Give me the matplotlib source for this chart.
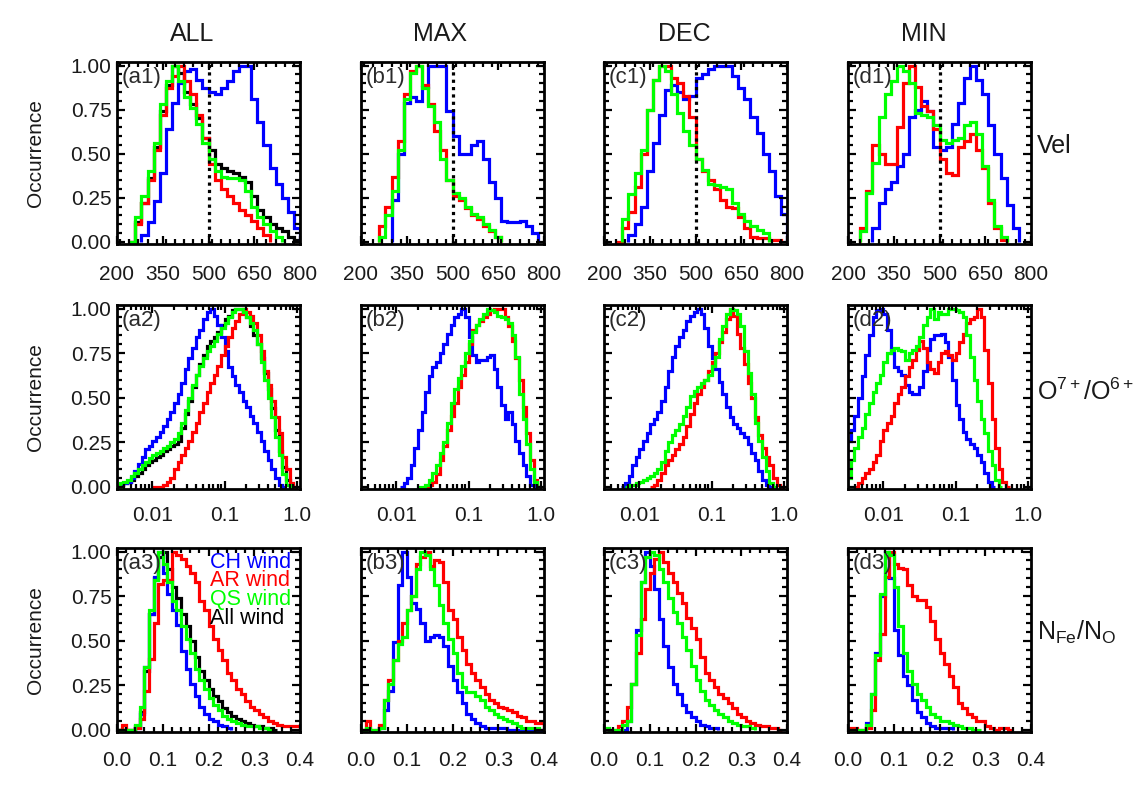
import numpy as np
import matplotlib
matplotlib.use("Agg")
import matplotlib.pyplot as plt
from matplotlib.ticker import MultipleLocator, FixedLocator, FixedFormatter, LogLocator, NullFormatter

N = np.nan

# ---------------- data ----------------
columns = ["ALL", "MAX", "DEC", "MIN"]
row_names = ["Vel", "O$^{7+}$/O$^{6+}$", "N$_{\\mathrm{Fe}}$/N$_{\\mathrm{O}}$"]
legend_labels = ["CH wind", "AR wind", "QS wind", "All wind"]

vel_edges = np.arange(200, 801, 20)            # km/s, 30 bins
ox_log_edges = np.linspace(-2.5, 0.0, 51)      # log10(O7+/O6+), 50 bins
feo_edges = np.linspace(0.0, 0.4, 41)          # Fe/O, 40 bins

vel_ticks = [200, 350, 500, 650, 800]
ox_ticks = [0.01, 0.1, 1.0]
ox_tick_labels = ["0.01", "0.1", "1.0"]
feo_ticks = [0.0, 0.1, 0.2, 0.3, 0.4]
y_ticks = [0.0, 0.25, 0.5, 0.75, 1.0]

# Velocity
a1_ch = [N,N,N,N,0.04,0.11,0.23,0.39,0.64,0.79,0.90,0.97,0.98,0.92,0.87,0.85,0.84,0.87,0.91,0.97,1.00,1.00,0.81,0.68,0.55,0.42,0.33,0.25,0.17,0.08]
a1_ar = [N,N,0.00,0.10,0.22,0.35,0.52,0.72,0.87,0.94,1.00,0.91,0.84,0.72,0.59,0.44,0.35,0.30,0.26,0.22,0.18,0.15,0.12,0.08,0.04,N,N,N,N,N]
a1_qs = [N,N,0.00,0.14,0.26,0.40,0.56,0.78,0.91,1.00,0.91,0.82,0.76,0.67,0.56,0.47,0.40,0.37,0.36,0.36,0.35,0.29,0.20,0.14,0.10,0.06,0.03,N,N,N]
a1_all = [N,N,0.00,0.11,0.22,0.36,0.54,0.74,0.89,1.00,0.96,0.85,0.78,0.70,0.59,0.52,0.44,0.42,0.40,0.39,0.37,0.34,0.26,0.18,0.14,0.10,0.08,0.06,0.03,0.01]
b1_ch = [N,N,N,N,N,0.24,0.50,0.79,0.82,0.80,0.88,1.00,1.00,1.00,0.74,0.60,0.50,0.50,0.55,0.57,0.47,0.34,0.25,0.12,0.11,0.11,0.12,0.09,0.05,N]
b1_ar = [N,N,N,0.09,0.20,0.37,0.57,0.84,0.97,1.00,0.89,0.78,0.63,0.52,0.35,0.26,0.24,0.19,0.15,0.13,0.09,0.06,0.03,N,N,N,N,N,N,N]
b1_qs = [N,N,N,0.03,0.15,0.29,0.52,0.81,0.96,1.00,0.87,0.77,0.68,0.47,0.35,0.28,0.25,0.20,0.16,0.14,0.10,0.07,0.03,N,N,N,N,N,N,N]
c1_ch = [N,N,N,N,0.04,0.10,0.20,0.40,0.56,0.72,0.86,0.89,0.85,0.81,0.83,0.93,0.95,0.98,1.00,1.00,1.00,0.94,0.87,0.81,0.71,0.62,0.50,0.40,0.26,0.16]
c1_ar = [N,N,0.00,0.08,0.17,0.31,0.50,0.75,0.92,1.00,1.00,0.93,0.90,0.83,0.71,0.47,0.40,0.35,0.30,0.24,0.20,0.19,0.14,0.08,0.03,0.02,0.02,0.01,0.01,N]
c1_qs = [N,N,N,0.13,0.27,0.39,0.52,0.75,0.92,1.00,0.97,0.84,0.73,0.63,0.55,0.47,0.41,0.33,0.32,0.31,0.30,0.22,0.16,0.12,0.09,0.07,0.05,N,N,N]
d1_ch = [N,N,N,N,0.08,0.22,0.30,0.34,0.43,0.50,0.71,0.75,0.80,0.74,0.54,0.52,0.54,0.67,0.79,0.93,1.00,0.92,0.84,0.66,0.50,0.36,0.21,0.08,N,N]
d1_ar = [N,N,0.08,0.29,0.55,0.50,0.44,0.44,0.65,0.90,1.00,0.88,0.77,0.74,0.64,0.47,0.39,0.38,0.54,0.57,0.61,0.52,0.42,0.22,0.08,0.01,N,N,N,N]
d1_qs = [N,N,0.06,0.28,0.45,0.71,0.84,0.91,1.00,0.97,0.90,0.73,0.72,0.71,0.66,0.58,0.56,0.58,0.59,0.66,0.68,0.61,0.43,0.24,0.09,0.03,N,N,N,N]

# O7+/O6+
a2_ch = [0.00,0.01,0.02,0.03,0.05,0.09,0.13,0.17,0.21,0.23,
         0.26,0.28,0.31,0.34,0.38,0.42,0.47,0.52,0.58,0.66,
         0.72,0.78,0.84,0.88,0.94,0.98,1.00,0.96,0.91,0.84,
         0.76,0.67,0.62,0.57,0.53,0.48,0.45,0.40,0.36,0.31,
         0.26,0.20,0.15,0.10,0.05,0.01,0.00,N,N,N]
a2_ar = [N,N,N,N,N,N,N,N,N,N,
         0.00,0.00,0.00,0.01,0.03,0.05,0.10,0.14,0.18,0.22,
         0.26,0.31,0.36,0.42,0.47,0.53,0.58,0.63,0.68,0.74,
         0.79,0.84,0.89,0.93,0.97,1.00,0.98,0.96,0.92,0.85,
         0.76,0.65,0.57,0.48,0.39,0.30,0.17,0.10,0.02,0.00]
a2_qs = [0.00,0.02,0.03,0.04,0.06,0.08,0.10,0.12,0.14,0.16,
         0.18,0.19,0.20,0.22,0.23,0.25,0.27,0.30,0.36,0.43,
         0.50,0.57,0.63,0.68,0.72,0.76,0.79,0.82,0.86,0.89,
         0.92,0.95,0.98,1.00,1.00,0.98,0.95,0.92,0.88,0.80,
         0.70,0.60,0.50,0.39,0.28,0.18,0.07,0.01,0.00,N]
a2_all = [0.00,0.01,0.02,0.03,0.04,0.06,0.08,0.10,0.12,0.14,
          0.15,0.17,0.18,0.20,0.21,0.23,0.24,0.26,0.33,0.41,
          0.48,0.56,0.63,0.69,0.74,0.79,0.82,0.84,0.87,0.91,
          0.94,0.96,0.99,1.00,1.00,0.98,0.95,0.90,0.85,0.80,
          0.72,0.64,0.55,0.44,0.32,0.20,0.11,0.04,0.00,N]
b2_ch = [N,N,N,N,N,N,N,N,N,N,
         N,0.00,0.02,0.05,0.12,0.22,0.32,0.42,0.53,0.62,
         0.67,0.70,0.75,0.80,0.86,0.91,0.95,0.97,1.00,0.95,
         0.84,0.74,0.70,0.71,0.71,0.73,0.74,0.66,0.56,0.46,
         0.38,0.42,0.35,0.26,0.19,0.12,0.06,0.01,0.00,N]
b2_ar = [N,N,N,N,N,N,N,N,N,N,
         N,N,N,N,N,N,N,N,0.00,0.01,
         0.03,0.07,0.15,0.23,0.32,0.40,0.47,0.56,0.63,0.70,
         0.80,0.88,0.91,0.93,0.95,0.97,0.99,1.00,1.00,1.00,
         0.95,0.90,0.82,0.72,0.60,0.45,0.30,0.15,0.04,0.00]
b2_qs = [N,N,N,N,N,N,N,N,N,N,
         N,N,N,N,N,N,0.00,0.00,0.01,0.04,
         0.08,0.12,0.19,0.25,0.36,0.47,0.55,0.61,0.68,0.75,
         0.82,0.87,0.91,0.94,0.97,1.00,0.99,0.98,0.96,0.95,
         0.94,0.92,0.85,0.73,0.52,0.38,0.24,0.10,0.03,0.00]
c2_ch = [N,N,N,N,N,0.00,0.02,0.06,0.12,0.17,
         0.21,0.26,0.30,0.35,0.38,0.42,0.48,0.56,0.65,0.73,
         0.79,0.84,0.88,0.93,0.96,0.98,1.00,0.97,0.89,0.79,
         0.72,0.66,0.59,0.52,0.45,0.39,0.35,0.33,0.30,0.28,
         0.24,0.19,0.15,0.09,0.04,0.01,0.00,N,N,N]
c2_ar = [N,N,N,N,N,N,N,N,N,N,
         N,N,N,0.00,0.01,0.04,0.08,0.12,0.15,0.18,
         0.21,0.24,0.28,0.34,0.41,0.47,0.52,0.56,0.60,0.65,
         0.70,0.75,0.81,0.87,0.94,1.00,0.96,0.86,0.78,0.69,
         0.58,0.50,0.39,0.29,0.22,0.17,0.12,0.05,0.01,0.00]
c2_qs = [N,N,N,N,N,N,0.00,0.01,0.01,0.02,
         0.03,0.04,0.05,0.06,0.08,0.10,0.14,0.20,0.25,0.29,
         0.32,0.35,0.40,0.45,0.51,0.54,0.56,0.58,0.60,0.63,
         0.68,0.73,0.83,0.90,0.97,1.00,0.99,0.97,0.90,0.76,
         0.64,0.52,0.36,0.26,0.17,0.09,0.02,0.00,N,N]
d2_ch = [0.26,0.32,0.40,0.50,0.62,0.74,0.85,0.95,0.99,1.00,
         0.97,0.88,0.75,0.67,0.65,0.63,0.57,0.53,0.52,0.52,
         0.56,0.65,0.77,0.83,0.85,0.85,0.86,0.81,0.73,0.60,
         0.46,0.38,0.31,0.27,0.24,0.22,0.18,0.14,0.08,0.03,
         0.00,N,N,N,N,N,N,N,N,N]
d2_ar = [N,N,0.00,0.02,0.05,0.08,0.10,0.14,0.18,0.26,
         0.32,0.36,0.40,0.47,0.52,0.56,0.62,0.67,0.71,0.77,
         0.82,0.78,0.70,0.66,0.64,0.70,0.75,0.76,0.74,0.71,
         0.75,0.81,0.86,0.92,0.94,0.95,1.00,0.95,0.77,0.58,
         0.38,0.22,0.10,0.03,0.00,N,N,N,N,N]
d2_qs = [0.05,0.15,0.22,0.28,0.33,0.41,0.47,0.53,0.58,0.63,
         0.70,0.75,0.77,0.78,0.77,0.76,0.71,0.75,0.77,0.79,
         0.84,0.91,0.95,1.00,0.94,0.98,0.97,0.97,1.00,1.00,
         0.99,0.98,0.95,0.85,0.73,0.60,0.48,0.38,0.30,0.20,
         0.12,0.04,0.00,N,N,N,N,N,N,N]

# Fe/O
a3_ch = [N,N,N,N,0.01,0.09,0.35,0.65,0.86,1.00,0.88,0.76,0.67,0.59,0.44,0.34,0.26,0.19,0.13,0.09,
         0.06,0.05,0.03,0.02,0.01,N,N,N,N,N,N,N,N,N,N,N,N,N,N,N]
a3_ar = [0.00,0.03,0.00,0.00,0.01,0.06,0.22,0.40,0.60,0.82,0.84,0.84,1.00,0.98,0.96,0.92,0.88,0.83,0.72,0.67,
         0.58,0.51,0.45,0.39,0.32,0.28,0.23,0.20,0.16,0.13,0.11,0.09,0.07,0.05,0.04,0.03,0.02,0.02,0.02,0.02]
a3_qs = [0.00,0.00,0.00,0.00,0.03,0.13,0.35,0.67,0.84,1.00,0.93,0.83,0.72,0.67,0.58,0.51,0.43,0.34,0.28,0.23,
         0.18,0.14,0.11,0.08,0.06,0.05,0.04,0.03,0.02,0.02,0.02,0.01,0.01,0.00,N,N,N,N,N,N]
a3_all = [0.00,0.00,0.00,0.00,0.02,0.10,0.33,0.65,0.85,0.97,1.00,0.90,0.80,0.74,0.65,0.58,0.50,0.41,0.33,0.28,
          0.23,0.19,0.16,0.12,0.10,0.08,0.06,0.05,0.04,0.03,0.02,0.02,0.01,0.01,0.00,N,N,N,N,N]
b3_ch = [N,N,N,N,0.01,0.11,0.22,0.49,0.81,1.00,0.86,0.71,0.68,0.60,0.50,0.52,0.53,0.52,0.47,0.36,
         0.28,0.21,0.15,0.09,0.06,0.04,0.02,0.01,0.01,0.01,0.01,0.01,0.00,0.00,0.00,0.00,0.00,0.00,0.00,0.00]
b3_ar = [0.00,0.05,0.00,0.00,0.03,0.17,0.28,0.39,0.50,0.60,0.67,0.75,0.93,0.97,1.00,0.92,0.95,0.94,0.83,0.67,
         0.62,0.52,0.45,0.37,0.32,0.28,0.24,0.20,0.17,0.15,0.13,0.12,0.11,0.10,0.08,0.07,0.05,0.05,0.04,0.04]
b3_qs = [0.00,0.01,0.00,0.00,0.01,0.17,0.26,0.39,0.48,0.52,0.67,0.75,0.90,1.00,0.98,0.90,0.81,0.70,0.60,0.51,
         0.43,0.32,0.24,0.21,0.21,0.19,0.17,0.13,0.11,0.09,0.07,0.06,0.05,0.04,0.02,0.01,0.01,0.01,0.01,N]
c3_ch = [N,N,N,N,0.00,0.05,0.26,0.56,0.83,1.00,0.92,0.79,0.62,0.47,0.35,0.26,0.20,0.14,0.10,0.07,
         0.05,0.03,0.02,0.01,0.01,N,N,N,N,N,N,N,N,N,N,N,N,N,N,N]
c3_ar = [N,N,0.00,0.02,0.05,0.13,0.26,0.43,0.62,0.79,0.88,0.96,1.00,0.94,0.88,0.83,0.77,0.71,0.63,0.57,
         0.51,0.41,0.32,0.28,0.24,0.20,0.18,0.15,0.12,0.09,0.07,0.05,0.04,0.03,0.02,0.02,0.01,0.01,0.00,N]
c3_qs = [0.01,0.00,0.00,0.00,0.03,0.05,0.26,0.53,0.83,0.97,1.00,0.98,0.90,0.83,0.74,0.66,0.60,0.52,0.45,0.36,
         0.28,0.22,0.17,0.14,0.11,0.09,0.07,0.05,0.04,0.03,0.02,0.02,0.01,N,N,N,N,N,N,N]
d3_ch = [N,N,N,N,0.04,0.20,0.43,0.75,1.00,0.85,0.56,0.42,0.30,0.25,0.17,0.10,0.07,0.04,0.02,0.01,
         0.01,0.01,0.01,N,N,N,N,N,N,N,N,N,N,N,N,N,N,N,N,N]
d3_ar = [0.01,0.01,0.00,0.00,0.01,0.11,0.39,0.54,0.86,1.00,0.93,0.91,0.90,0.81,0.75,0.73,0.73,0.69,0.61,0.51,
         0.43,0.37,0.30,0.24,0.15,0.12,0.09,0.07,0.05,0.05,0.02,0.01,0.00,0.01,0.01,0.00,N,N,N,N]
d3_qs = [0.00,0.00,0.00,0.00,0.03,0.20,0.42,0.76,1.00,0.98,0.80,0.58,0.43,0.33,0.26,0.20,0.17,0.13,0.09,0.07,
         0.05,0.05,0.04,0.03,0.02,0.01,0.01,0.00,0.00,N,N,N,N,N,N,N,N,N,N,N]

panels = [
    [dict(all=a1_all, ch=a1_ch, ar=a1_ar, qs=a1_qs), dict(ch=b1_ch, ar=b1_ar, qs=b1_qs),
     dict(ch=c1_ch, ar=c1_ar, qs=c1_qs), dict(ch=d1_ch, ar=d1_ar, qs=d1_qs)],
    [dict(all=a2_all, ch=a2_ch, ar=a2_ar, qs=a2_qs), dict(ch=b2_ch, ar=b2_ar, qs=b2_qs),
     dict(ch=c2_ch, ar=c2_ar, qs=c2_qs), dict(ch=d2_ch, ar=d2_ar, qs=d2_qs)],
    [dict(all=a3_all, ch=a3_ch, ar=a3_ar, qs=a3_qs), dict(ch=b3_ch, ar=b3_ar, qs=b3_qs),
     dict(ch=c3_ch, ar=c3_ar, qs=c3_qs), dict(ch=d3_ch, ar=d3_ar, qs=d3_qs)],
]

# ---------------- style ----------------
plt.rcParams['font.family'] = ['Liberation Sans', 'DejaVu Sans']
plt.rcParams['mathtext.fontset'] = 'custom'
plt.rcParams['mathtext.rm'] = 'Liberation Sans'
plt.rcParams['mathtext.it'] = 'Liberation Sans:italic'
plt.rcParams['mathtext.bf'] = 'Liberation Sans:bold'

colors = dict(all='#000000', ch='#0000ff', ar='#ff0000', qs='#00ff00')
draw_order = ['all', 'ch', 'ar', 'qs']
txt_col = '#1a1a1a'

W, H = 1145, 786
fig = plt.figure(figsize=(W / 100, H / 100), dpi=100)

col_left = [117, 361, 604, 848]
ax_w = 183
rows_tb = [(62, 244), (305, 489), (548, 732)]
xpads = [15, 12, 14]
panel_letters = ['a', 'b', 'c', 'd']

for r in range(3):
    top, bot = rows_tb[r]
    for c in range(4):
        ax = fig.add_axes([col_left[c] / W, 1 - bot / H, ax_w / W, (bot - top) / H])
        if r == 0:
            edges = vel_edges
        elif r == 1:
            edges = 10 ** ox_log_edges
            ax.set_xscale('log')
        else:
            edges = feo_edges
        data = panels[r][c]
        for key in draw_order:
            if key in data:
                ax.stairs(np.array(data[key], dtype=float), edges, baseline=0.0, fill=False,
                          color=colors[key], linewidth=2.3, joinstyle='miter', capstyle='butt')
        if r == 0:
            ax.axvline(500, color='k', linestyle=(0, (1, 1.3)), linewidth=2.3, zorder=1)
            ax.set_xlim(200, 800)
            ax.xaxis.set_major_locator(FixedLocator(vel_ticks))
            ax.xaxis.set_minor_locator(MultipleLocator(30))
        elif r == 1:
            ax.set_xlim(10 ** -2.49, 10 ** 0.045)
            ax.xaxis.set_major_locator(FixedLocator(ox_ticks))
            ax.xaxis.set_major_formatter(FixedFormatter(ox_tick_labels))
            ax.xaxis.set_minor_locator(LogLocator(base=10, subs=np.arange(2, 10)))
            ax.xaxis.set_minor_formatter(NullFormatter())
        else:
            ax.set_xlim(0, 0.4)
            ax.xaxis.set_major_locator(FixedLocator(feo_ticks))
            ax.set_xticklabels(["%.1f" % t for t in feo_ticks])
            ax.xaxis.set_minor_locator(MultipleLocator(0.02))
        ax.set_ylim(-0.012, 1.02)
        ax.yaxis.set_major_locator(FixedLocator(y_ticks))
        ax.yaxis.set_minor_locator(MultipleLocator(0.05))
        if c == 0:
            ax.set_yticklabels(["%.2f" % t for t in y_ticks])
        ax.tick_params(which='both', direction='in', top=True, right=True, colors='k',
                       labelcolor=txt_col, labelsize=15, width=1.6)
        ax.tick_params(which='major', length=6)
        ax.tick_params(which='minor', length=3.5)
        ax.tick_params(axis='x', which='major', pad=xpads[r])
        ax.tick_params(axis='y', which='major', pad=4, labelleft=(c == 0))
        for sp in ax.spines.values():
            sp.set_linewidth(2.0)
        ax.text(0.025, 0.975, "(%s%d)" % (panel_letters[c], r + 1), transform=ax.transAxes,
                ha='left', va='top', fontsize=16, color='#2a2a2a', zorder=5)

# column titles
title_x = [192, 440, 684, 924]
for c in range(4):
    fig.text(title_x[c] / W, 1 - 34 / H, columns[c], ha='center', va='center', fontsize=18, color=txt_col)

# row labels
row_label_y = [153, 400, 640]
for r in range(3):
    fig.text(1037 / W, 1 - row_label_y[r] / H, row_names[r], ha='left', va='baseline',
             fontsize=18, color=txt_col)

# y labels
for r in range(3):
    top, bot = rows_tb[r]
    fig.text(35 / W, 1 - (top + bot) / 2 / H, "Occurrence", rotation=90, ha='center', va='center',
             fontsize=15, color=txt_col)

# legend in (a3)
leg_y = [562, 581, 600, 619]
leg_cols = [colors['ch'], colors['ar'], colors['qs'], colors['all']]
for lab, yy, col in zip(legend_labels, leg_y, leg_cols):
    fig.text(210 / W, 1 - yy / H, lab, ha='left', va='center', fontsize=15.5, color=col)

fig.savefig("out.png", dpi=100)
